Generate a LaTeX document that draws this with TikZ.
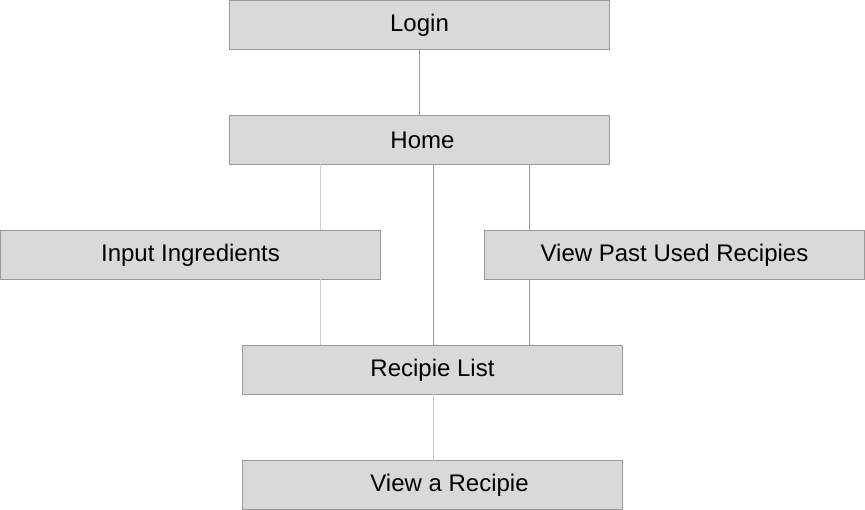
\documentclass[tikz,border=0pt]{standalone}
\usepackage{fontspec}
\setmainfont{Liberation Sans}
\begin{document}
\begin{tikzpicture}[x=1pt,y=-1pt,
  box/.style={draw=boxline,fill=boxfill,line width=1pt,outer sep=0pt,minimum width=380pt,minimum height=49pt,inner sep=0pt,font=\fontsize{24}{28}\selectfont,anchor=north west},
  link/.style={draw=linkgray,line width=1pt},
  lightlink/.style={draw=linklight,line width=1pt}]
\definecolor{boxfill}{HTML}{D9D9D9}
\definecolor{boxline}{HTML}{999999}
\definecolor{linkgray}{HTML}{999999}
\definecolor{linklight}{HTML}{CCCCCC}
\useasboundingbox (0,0) rectangle (865,510);
\node[box] (login) at (229.5,0.5) {Login};
\node[box] (home) at (229.5,115.5) {\hspace*{6pt}Home};
\node[box] (ii) at (0.5,230.5) {Input Ingredients};
\node[box] (vp) at (484.5,230.5) {View Past Used Recipies};
\node[box] (rl) at (242.5,345.5) {Recipie List};
\node[box] (var) at (242.5,460.5) {\hspace*{34pt}View a Recipie};
\coordinate (xl) at (320,0);
\coordinate (xm) at (433,0);
\coordinate (xr) at (529,0);
\draw[link] (login.south) -- (home.north);
\draw[lightlink] (home.south -| xl) -- (ii.north -| xl);
\draw[lightlink] (ii.south -| xl) -- (rl.north -| xl);
\draw[link] (home.south -| xm) -- (rl.north -| xm);
\draw[link] (home.south -| xr) -- (vp.north -| xr);
\draw[link] (vp.south -| xr) -- (rl.north -| xr);
\draw[lightlink] (rl.south -| xm) -- (var.north -| xm);
\end{tikzpicture}
\end{document}
